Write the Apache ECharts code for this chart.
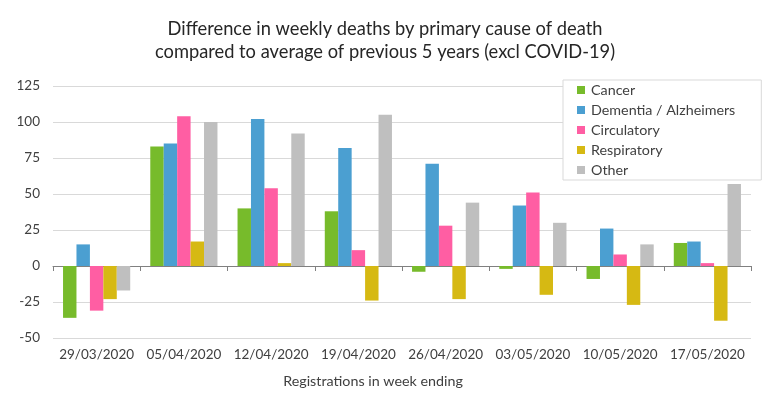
<!DOCTYPE html>
<html>
<head>
<meta charset="utf-8">
<script src="https://cdn.jsdelivr.net/npm/echarts@6/dist/echarts.min.js"></script>
<style>
  html, body { margin: 0; padding: 0; background: #fff; }
  #main { width: 770px; height: 397px; }
</style>
</head>
<body>
<div id="main"></div>
<script>
// week ending dates
var weeks = ['29/03/2020', '05/04/2020', '12/04/2020', '19/04/2020', '26/04/2020', '03/05/2020', '10/05/2020', '17/05/2020'];

// difference vs 5 year average, by cause
var cancer      = [-36, 83, 40, 38, -4, -2, -9, 16];
var dementia    = [15, 85, 102, 82, 71, 42, 26, 17];
var circulatory = [-31, 104, 54, 11, 28, 51, 8, 2];
var respiratory = [-23, 17, 2, -24, -23, -20, -27, -38];
var other       = [-17, 100, 92, 105, 44, 30, 15, 57];

var names = ['Cancer', 'Dementia / Alzheimers', 'Circulatory', 'Respiratory', 'Other'];
var colors = ['#77bb2b', '#4b9fd1', '#ff5ea3', '#d6b913', '#bfbfbf'];
var allData = [cancer, dementia, circulatory, respiratory, other];

var font = 'Lato';

var chart = echarts.init(document.getElementById('main'));

var series = [];
for (var i = 0; i < names.length; i++) {
	series.push({
		name: names[i],
		type: 'bar',
		barGap: '0%',
		barCategoryGap: '23%',
		itemStyle: { color: colors[i] },
		data: allData[i]
	});
}

var option = {
	animation: false,
	textStyle: { fontFamily: font },
	title: {
		text: 'Difference in weekly deaths by primary cause of death\ncompared to average of previous 5 years (excl COVID-19)',
		left: 'center',
		top: 13,
		textStyle: { fontSize: 18.3, fontWeight: 'normal', color: '#262626', lineHeight: 23, fontFamily: font }
	},
	legend: {
		orient: 'vertical',
		left: 563,
		top: 80,
		data: names,
		itemWidth: 8,
		itemHeight: 8,
		itemGap: 6,
		icon: 'rect',
		padding: [3, 26, 3, 14],
		borderColor: '#d9d9d9',
		borderWidth: 1,
		backgroundColor: '#fff',
		textStyle: { fontSize: 14.3, color: '#404040', fontFamily: font, padding: [0, 0, 0, 1] }
	},
	grid: { left: 53, right: 19, top: 86, bottom: 59 },
	xAxis: [
		{
			type: 'category',
			data: weeks,
			position: 'bottom',
			axisLine: { show: false, onZero: false },
			axisTick: { show: false },
			axisLabel: { interval: 0, fontSize: 13.5, color: '#404040', margin: 10, fontFamily: font },
			name: 'Registrations in week ending',
			nameLocation: 'middle',
			nameGap: 36,
			nameTextStyle: { fontSize: 14.3, color: '#404040', fontFamily: font, padding: [0, 58, 0, 0] }
		},
		{
			type: 'category',
			data: weeks,
			position: 'top',
			axisLine: { show: true, onZero: true, lineStyle: { color: '#808080', width: 1 } },
			axisTick: { show: true, inside: true, length: 5, lineStyle: { color: '#808080' } },
			axisLabel: { show: false }
		}
	],
	yAxis: {
		type: 'value',
		min: -50,
		max: 125,
		interval: 25,
		axisLine: { show: false },
		axisTick: { show: false },
		axisLabel: { fontSize: 13.5, color: '#404040', margin: 13, fontFamily: font },
		splitLine: { lineStyle: { color: '#d9d9d9' } }
	},
	series: series
};

chart.setOption(option);
</script>
</body>
</html>
